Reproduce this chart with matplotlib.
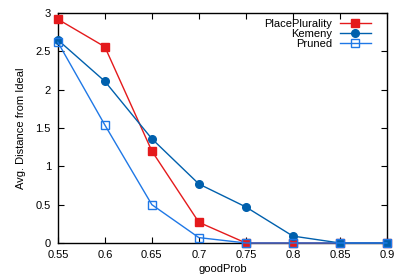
import matplotlib
matplotlib.use('Agg')
import matplotlib.pyplot as plt

plt.rcParams['font.family'] = ['Liberation Sans', 'DejaVu Sans']

good_prob = [0.55, 0.6, 0.65, 0.7, 0.75, 0.8, 0.85, 0.9]
place_plurality = [2.92, 2.56, 1.20, 0.27, 0.0, 0.0, 0.0, 0.0]
kemeny = [2.65, 2.11, 1.36, 0.77, 0.47, 0.09, 0.0, 0.0]
pruned = [2.62, 1.54, 0.50, 0.07, 0.0, 0.0, 0.0, 0.0]

xticks = [0.55, 0.6, 0.65, 0.7, 0.75, 0.8, 0.85, 0.9]
xticklabels = ['0.55', '0.6', '0.65', '0.7', '0.75', '0.8', '0.85', '0.9']
yticks = [0, 0.5, 1, 1.5, 2, 2.5, 3]
yticklabels = ['0', '0.5', '1', '1.5', '2', '2.5', '3']

fig = plt.figure(figsize=(3.96, 2.78), dpi=100)
ax = fig.add_axes([0.146, 0.126, 0.831, 0.827])

ax.plot(good_prob, place_plurality, color='#e41a1c', lw=1, marker='s', ms=5.5,
        label='PlacePlurality', clip_on=False, zorder=3)
ax.plot(good_prob, kemeny, color='#0060ad', lw=1, marker='o', ms=5.5,
        label='Kemeny', clip_on=False, zorder=3)
ax.plot(good_prob, pruned, color='#1f78e6', lw=1, marker='s', ms=5.5, mfc='none',
        mew=1, label='Pruned', clip_on=False, zorder=4)

ax.set_xlim(0.55, 0.9)
ax.set_ylim(0, 3)
ax.set_xticks(xticks)
ax.set_xticklabels(xticklabels)
ax.set_yticks(yticks)
ax.set_yticklabels(yticklabels)
ax.tick_params(direction='in', top=True, right=True, labelsize=8, length=4, pad=5)
for s in ax.spines.values():
    s.set_linewidth(1)

ax.set_xlabel('goodProb', fontsize=8, labelpad=3)
ax.set_ylabel('Avg. Distance from Ideal', fontsize=8, labelpad=7)

leg = ax.legend(loc='upper right', bbox_to_anchor=(0.965, 0.995), markerfirst=False,
                frameon=False, fontsize=8, handlelength=2.8, labelspacing=0.0,
                handletextpad=0.7, borderaxespad=0.0)

fig.savefig('out.png', dpi=100)
